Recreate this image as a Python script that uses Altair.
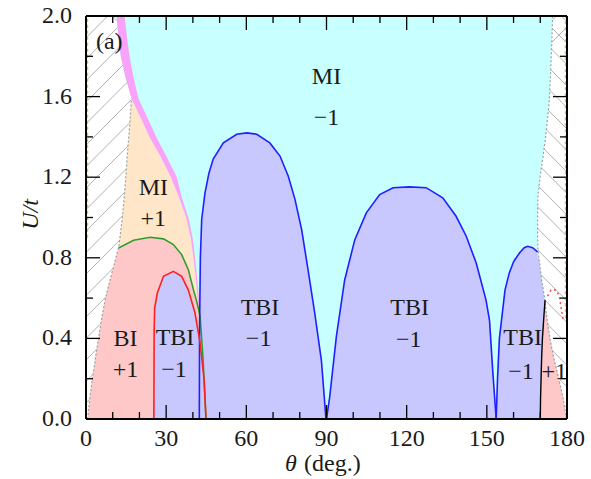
import altair as alt
import numpy as np
import pandas as pd

# ---------------- data ----------------
GRID_U = [0.0, 0.1, 0.2, 0.3, 0.4, 0.5, 0.6, 0.7, 0.8, 0.85, 0.9, 1.0, 1.1, 1.2, 1.3,
          1.4, 1.5, 1.59, 1.7, 1.8, 1.9, 2.0]
HATCH_L = [0.6, 1.4, 2.4, 3.5, 4.7, 5.9, 7.3, 9.2, 11.2, 12.2, 12.7, 13.6, 14.3, 14.9, 15.4,
           16.0, 16.6, 17.0, 14.7, 13.0, 12.1, 11.4]
HATCH_R = [179.8, 178.6, 176.9, 175.1, 173.6, 172.5, 171.6, 170.4, 169.5, 169.1, 169.0, 169.0,
           169.1, 169.9, 171.0, 172.0, 172.8, 173.4, 173.8, 174.1, 174.4, 174.6]
MAG_L = [44.9, 44.6, 44.1, 43.5, 43.0, 42.4, 41.8, 41.1, 40.2, 39.7, 39.2, 37.5, 34.8, 31.8, 28.0,
         23.8, 20.3, 17.0, 14.7, 13.0, 12.1, 11.4]
MAG_R = [45.0, 44.8, 44.4, 43.9, 43.4, 42.9, 42.3, 41.6, 40.8, 40.4, 39.9, 38.3, 35.8, 34.0, 30.2,
         26.3, 22.8, 19.6, 17.7, 16.3, 15.3, 14.4]

BLUE1_T = [42.4, 42.5, 42.8, 43.3, 44.5, 46.0, 47.6, 51.4, 56.4, 60.2, 63.9, 68.8, 72.6, 75.7,
           78.2, 80.7, 83.1, 85.6, 88.1, 89.8]
BLUE1_U = [0.0, 0.45, 0.8, 0.99, 1.12, 1.22, 1.29, 1.37, 1.413, 1.42, 1.413, 1.37, 1.305, 1.205,
           1.09, 0.94, 0.74, 0.526, 0.29, 0.0]
BLUE2_T = [90.0, 91.2, 93.7, 96.8, 100.6, 104.9, 109.9, 114.9, 121.0, 127.3, 133.5, 138.5, 142.3,
           146.0, 149.7, 151.0, 152.2, 153.5]
BLUE2_U = [0.0, 0.11, 0.41, 0.69, 0.89, 1.023, 1.114, 1.148, 1.152, 1.148, 1.098, 1.006, 0.907,
           0.775, 0.59, 0.49, 0.24, 0.0]
BLUE3_T = [153.5, 154.0, 154.7, 156.8, 158.4, 160.0, 162.2, 164.0, 165.3, 167.1, 169.0]
BLUE3_U = [0.0, 0.2, 0.40, 0.64, 0.725, 0.78, 0.824, 0.85, 0.857, 0.85, 0.83]

RED_T = [25.4, 25.5, 25.7, 26.7, 29.0, 32.7, 35.8, 38.3, 40.8, 42.7, 44.2, 44.9]
RED_U = [0.0, 0.43, 0.55, 0.625, 0.708, 0.733, 0.708, 0.64, 0.526, 0.377, 0.194, 0.0]

GREEN_T = [12.2, 17.8, 24.0, 29.0, 32.7, 35.8, 38.3, 40.2, 41.5, 42.7, 43.8, 44.9]
GREEN_U = [0.849, 0.887, 0.902, 0.894, 0.866, 0.816, 0.741, 0.642, 0.58, 0.51, 0.30, 0.0]

BLACK_U = [0.0, 0.1, 0.2, 0.3, 0.4, 0.5, 0.59]
BLACK_T = [170.0, 170.1, 170.3, 170.5, 170.8, 171.3, 171.8]
BIR_R = [179.8, 178.6, 176.9, 175.1, 173.6, 172.5, 171.8]

REDDOT_T = [172.7, 174.0, 175.9, 177.1, 177.7, 178.6]
REDDOT_U = [0.61, 0.64, 0.64, 0.61, 0.56, 0.49]

LAB_T = [90.0, 90.0, 25.2, 25.2, 14.8, 14.8, 33.3, 32.9, 65.1, 64.6, 121.1, 120.8, 163.4, 162.8, 175.2, 8.7]
LAB_U = [1.695, 1.496, 1.148, 0.994, 0.396, 0.244, 0.401, 0.244, 0.551, 0.397, 0.551, 0.393, 0.401,
         0.235, 0.235, 1.87]
LAB_S = ["MI", "\u22121", "MI", "+1", "BI", "+1", "TBI", "\u22121", "TBI", "\u22121", "TBI", "\u22121",
         "TBI", "\u22121", "+1", "(a)"]

X_MAJOR = [0, 30, 60, 90, 120, 150, 180]
X_MINOR = [10, 20, 40, 50, 70, 80, 100, 110, 130, 140, 160, 170]
Y_MAJOR = [0.0, 0.4, 0.8, 1.2, 1.6, 2.0]
Y_MINOR = [0.2, 0.6, 1.0, 1.4, 1.8]
X_TITLE = ["\u03b8", "(deg.)"]
Y_TITLE = "U/t"

# ---------------- style ----------------
W, H = 481, 403
FONT = "Liberation Serif"
TXT = "#1a1a1a"
C_CYAN = "#c8ffff"
C_LAV = "#c8c8ff"
C_PINK = "#ffc8c8"
C_ORANGE = "#ffe6c8"
C_MAG = "#f9a2f9"

XS = alt.Scale(domain=[0, 180], nice=False, zero=False)
YS = alt.Scale(domain=[0, 2], nice=False, zero=False)


def X(f):
    return alt.X(f, type="quantitative", scale=XS, axis=None)


def Y(f):
    return alt.Y(f, type="quantitative", scale=YS, axis=None)


grid = pd.DataFrame({"u": GRID_U, "tl": HATCH_L, "tr": HATCH_R, "ml": MAG_L, "mr": MAG_R})
grid["i"] = range(len(grid))
grid["g0"] = GREEN_T[0] + 0.3
grid["b3"] = BLUE3_T[5]


def hband(df, left, right, color):
    return alt.Chart(df).mark_area(orient="horizontal", color=color).encode(
        y=Y("u"), x=X(left), x2=alt.X2(right))


def vband(df, color):
    return alt.Chart(df).mark_area(orient="vertical", color=color).encode(
        x=X("t"), y=Y("u"), y2=alt.Y2("z"))


layers = []

# hatch lines (decorative)
hl = pd.DataFrame({"a": np.arange(-150, 35, 8.0)})
hl["b"] = hl["a"] + 150.1
hr = pd.DataFrame({"a": np.arange(160, 345, 8.0)})
hr["b"] = hr["a"] - 150.1
for d in (hl, hr):
    d["y0"] = 0.0
    d["y1"] = 2.0
    layers.append(alt.Chart(d).mark_rule(clip=True, color="#b0b0b0", strokeWidth=1).encode(
        x=X("a"), x2=alt.X2("b"), y=Y("y0"), y2=alt.Y2("y1")))

# cyan MI(-1) region
layers.append(hband(grid, "tl", "tr", C_CYAN))
# orange MI(+1)
layers.append(hband(grid[grid.u <= 1.59], "tl", "ml", C_ORANGE))

# pink BI(+1) left
green = pd.DataFrame({"t": GREEN_T, "u": GREEN_U})
green["z"] = 0.0
green["i"] = range(len(green))
layers.append(vband(green, C_PINK))
layers.append(hband(grid[grid.u <= 0.85], "tl", "g0", C_PINK))

# magenta band
layers.append(hband(grid, "ml", "mr", C_MAG))

# lavender TBI regions
red = pd.DataFrame({"t": RED_T, "u": RED_U})
red["z"] = 0.0
red["i"] = range(len(red))
blues = []
for bt, bu in ((BLUE1_T, BLUE1_U), (BLUE2_T, BLUE2_U), (BLUE3_T, BLUE3_U)):
    d = pd.DataFrame({"t": bt, "u": bu})
    d["z"] = 0.0
    d["i"] = range(len(d))
    blues.append(d)

layers.append(vband(red, C_LAV))
for d in blues:
    layers.append(vband(d, C_LAV))
layers.append(hband(grid[grid.u <= 0.8], "b3", "tr", C_LAV))

# pink BI right of black line
bir = pd.DataFrame({"u": BLACK_U, "t": BLACK_T, "r": BIR_R})
bir["i"] = range(len(bir))
layers.append(hband(bir, "t", "r", C_PINK))

# dotted boundaries of the hatched regions
layers.append(alt.Chart(grid[grid.u <= 1.59]).mark_line(color="#a0a0a0", strokeWidth=1.2,
                                                         strokeDash=[2, 2]).encode(
    x=X("tl"), y=Y("u"), order=alt.Order("i:Q")))
layers.append(alt.Chart(grid).mark_line(color="#a0a0a0", strokeWidth=1.2, strokeDash=[2, 2]).encode(
    x=X("tr"), y=Y("u"), order=alt.Order("i:Q")))

# orange dashed lines along the frame
edge = pd.DataFrame({"t": [0.6, 0.6, 179.4, 179.4], "u": [0.9, 2.0, 0.5, 2.0], "g": ["l", "l", "r", "r"]})
layers.append(alt.Chart(edge).mark_line(color="#f5b041", strokeWidth=1.2, strokeDash=[3, 3]).encode(
    x=X("t"), y=Y("u"), detail="g:N"))

# boundary lines
layers.append(alt.Chart(green).mark_line(color="#2ca02c", strokeWidth=1.6).encode(
    x=X("t"), y=Y("u"), order=alt.Order("i:Q")))
for d in blues:
    layers.append(alt.Chart(d).mark_line(color="#1f1fff", strokeWidth=1.6).encode(
        x=X("t"), y=Y("u"), order=alt.Order("i:Q")))
layers.append(alt.Chart(red).mark_line(color="#ff2020", strokeWidth=1.6).encode(
    x=X("t"), y=Y("u"), order=alt.Order("i:Q")))
layers.append(alt.Chart(bir).mark_line(color="black", strokeWidth=1.4).encode(
    x=X("t"), y=Y("u"), order=alt.Order("i:Q")))
rd = pd.DataFrame({"t": REDDOT_T, "u": REDDOT_U})
rd["i"] = range(len(rd))
layers.append(alt.Chart(rd).mark_line(color="#ff4040", strokeWidth=1.4, strokeDash=[2, 3]).encode(
    x=X("t"), y=Y("u"), order=alt.Order("i:Q")))

# region labels
lab = pd.DataFrame({"t": LAB_T, "u": LAB_U, "s": LAB_S})
layers.append(alt.Chart(lab).mark_text(font=FONT, fontSize=24, color=TXT, baseline="middle",
                                       align="center").encode(x=X("t"), y=Y("u"), text="s:N"))

# ticks (inside, on all four sides)
for vals, ln in ((X_MAJOR, 14), (X_MINOR, 7)):
    d = pd.DataFrame({"t": vals})
    layers.append(alt.Chart(d).mark_rule(color="black", strokeWidth=1.3).encode(
        x=X("t"), y=alt.value(H), y2=alt.value(H - ln)))
    layers.append(alt.Chart(d).mark_rule(color="black", strokeWidth=1.3).encode(
        x=X("t"), y=alt.value(0), y2=alt.value(ln)))
for vals, ln in ((Y_MAJOR, 14), (Y_MINOR, 7)):
    d = pd.DataFrame({"u": vals})
    layers.append(alt.Chart(d).mark_rule(color="black", strokeWidth=1.3).encode(
        y=Y("u"), x=alt.value(0), x2=alt.value(ln)))
    layers.append(alt.Chart(d).mark_rule(color="black", strokeWidth=1.3).encode(
        y=Y("u"), x=alt.value(W), x2=alt.value(W - ln)))

# tick labels and axis titles
xl = pd.DataFrame({"t": X_MAJOR, "s": [str(v) for v in X_MAJOR]})
layers.append(alt.Chart(xl).mark_text(font=FONT, fontSize=24, color=TXT, baseline="middle",
                                      align="center").encode(x=X("t"), y=alt.value(H + 20), text="s:N"))
yl = pd.DataFrame({"u": Y_MAJOR, "s": [f"{v:.1f}" for v in Y_MAJOR]})
layers.append(alt.Chart(yl).mark_text(font=FONT, fontSize=24, color=TXT, baseline="middle",
                                      align="right").encode(y=Y("u"), x=alt.value(-14), text="s:N"))
ttl = pd.DataFrame({"s": [Y_TITLE]})
layers.append(alt.Chart(ttl).mark_text(font=FONT, fontSize=24, color=TXT, fontStyle="italic",
                                       angle=270, baseline="middle", align="center").encode(
    x=alt.value(-55), y=alt.value(H / 2 - 3), text="s:N"))
tx1 = pd.DataFrame({"s": [X_TITLE[0]]})
layers.append(alt.Chart(tx1).mark_text(font=FONT, fontSize=24, color=TXT, fontStyle="italic",
                                       baseline="middle", align="center").encode(
    x=alt.value(205), y=alt.value(H + 45), text="s:N"))
tx2 = pd.DataFrame({"s": [X_TITLE[1]]})
layers.append(alt.Chart(tx2).mark_text(font=FONT, fontSize=24, color=TXT,
                                       baseline="middle", align="left").encode(
    x=alt.value(218), y=alt.value(H + 45), text="s:N"))

# frame
fr = pd.DataFrame({"k": [0]})
layers.append(alt.Chart(fr).mark_rule(color="black", strokeWidth=2).encode(
    x=alt.value(0), x2=alt.value(W), y=alt.value(0)))
layers.append(alt.Chart(fr).mark_rule(color="black", strokeWidth=2).encode(
    x=alt.value(0), x2=alt.value(W), y=alt.value(H)))
layers.append(alt.Chart(fr).mark_rule(color="black", strokeWidth=2).encode(
    y=alt.value(0), y2=alt.value(H), x=alt.value(0)))
layers.append(alt.Chart(fr).mark_rule(color="black", strokeWidth=2).encode(
    y=alt.value(0), y2=alt.value(H), x=alt.value(W)))

chart = alt.layer(*layers).properties(
    width=W, height=H,
    padding={"left": 86, "top": 16, "right": 24, "bottom": 60},
    autosize=alt.AutoSizeParams(type="none"),
    background="white",
).configure_view(stroke=None, fill="white")

chart.save("out.html", embed_options={"renderer": "svg", "actions": False})
